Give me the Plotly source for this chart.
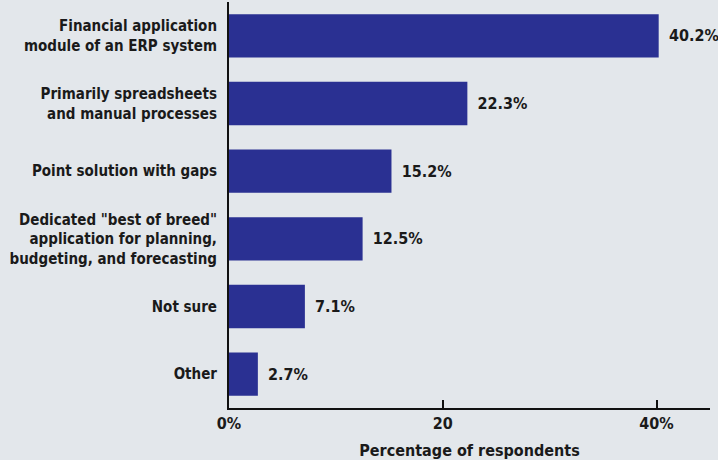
import plotly.graph_objects as go

categories = [
    "Financial application<br>module of an ERP system",
    "Primarily spreadsheets<br>and manual processes",
    "Point solution with gaps",
    "Dedicated \"best of breed\"<br>application for planning,<br>budgeting, and forecasting",
    "Not sure",
    "Other",
]
values = [40.2, 22.3, 15.2, 12.5, 7.1, 2.7]
tick_vals = [0, 20, 40]
tick_text = ["0%", "20", "40%"]

FONT = "Liberation Sans Narrow, DejaVu Sans Condensed, Arial Narrow, sans-serif"
BG = "#e3e7eb"

fig = go.Figure(go.Bar(
    x=values,
    y=categories,
    orientation="h",
    marker=dict(color="#2a3092", line=dict(width=0)),
    text=values,
    texttemplate="\u2002%{x:.1f}%",
    textposition="outside",
    cliponaxis=False,
    textfont=dict(family=FONT, size=16, color="#1a1a1a", weight="bold"),
    width=0.64,
))

fig.update_layout(
    width=718, height=460,
    margin=dict(l=229, r=8, t=2, b=52),
    paper_bgcolor=BG, plot_bgcolor=BG,
    showlegend=False,
    font=dict(family=FONT, size=16, color="#1a1a1a", weight="bold"),
    xaxis=dict(
        range=[0, 45],
        tickvals=tick_vals, ticktext=tick_text,
        ticks="inside", ticklen=8, tickwidth=2, tickcolor="#111",
        showline=True, linecolor="#111", linewidth=2,
        showgrid=False, zeroline=False, automargin=False,
        tickfont=dict(family=FONT, size=16, color="#1a1a1a", weight="bold"),
        title=dict(text="Percentage of respondents", standoff=20,
                   font=dict(family=FONT, size=16, color="#1a1a1a", weight="bold")),
    ),
    yaxis=dict(
        autorange="reversed",
        showline=True, linecolor="#111", linewidth=2,
        showgrid=False, zeroline=False, automargin=False,
        ticks="", ticklabelstandoff=7,
        tickfont=dict(family=FONT, size=15, color="#1a1a1a", weight="bold"),
    ),
)

fig.write_html("out.html", config={"displayModeBar": False},
               post_script="document.body.style.margin='0';")
